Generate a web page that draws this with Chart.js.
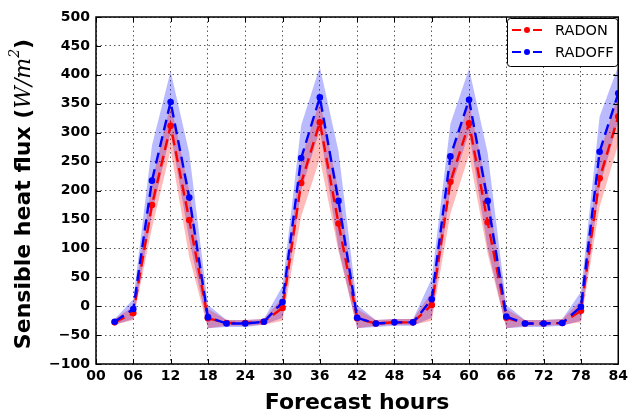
<!DOCTYPE html>
<html lang="en">
<head>
<meta charset="UTF-8">
<title>Sensible heat flux</title>
<style>
  html, body { margin: 0; padding: 0; background: #fff; }
  #wrap { width: 632px; height: 420px; position: relative; }
</style>
</head>
<body>
<div id="wrap"><canvas id="fluxChart"></canvas></div>
<script src="https://cdn.jsdelivr.net/npm/chart.js"></script>
<script>
// forecast hour of each point
const hours = [3, 6, 9, 12, 15, 18, 21, 24, 27, 30, 33, 36, 39, 42, 45, 48, 51, 54, 57, 60, 63, 66, 69, 72, 75, 78, 81, 84];

// RADON (red) mean and spread
const radon     = [-28, -12, 175, 312, 149, -21, -29, -29, -27, -3, 213, 318, 143, -21, -30, -28, -28, 2, 215, 316, 145, -20, -30, -30, -29, -8, 221, 328];
const radonHigh = [-22, 0, 215, 350, 200, -5, -24, -24, -22, 15, 255, 355, 200, -5, -24, -22, -22, 25, 255, 352, 200, -5, -24, -24, -22, 10, 265, 365];
const radonLow  = [-32, -24, 135, 270, 85, -38, -34, -34, -32, -25, 155, 255, 95, -38, -34, -32, -32, -25, 160, 262, 90, -38, -34, -34, -32, -28, 172, 280];

// RADOFF (blue) mean and spread
const radoff     = [-27, -5, 217, 353, 188, -19, -30, -30, -27, 7, 256, 361, 182, -20, -30, -28, -28, 12, 259, 357, 182, -18, -30, -30, -29, -1, 267, 368];
const radoffHigh = [-22, 12, 278, 406, 265, 2, -24, -24, -22, 35, 313, 414, 268, 2, -24, -22, -22, 48, 315, 411, 265, 2, -24, -24, -22, 25, 328, 415];
const radoffLow  = [-32, -22, 160, 300, 115, -38, -36, -36, -32, -20, 200, 305, 100, -38, -36, -34, -34, -20, 200, 300, 100, -38, -36, -36, -34, -25, 205, 320];

const seriesNames = ['RADON', 'RADOFF'];
const xTicks = [0, 6, 12, 18, 24, 30, 36, 42, 48, 54, 60, 66, 72, 78, 84];

function pts(vals) {
    return hours.map((h, i) => ({ x: h, y: vals[i] }));
}

const bandOpts = { borderWidth: 0, pointRadius: 0, tension: 0 };

// frame, inward ticks, titles and legend box
const decor = {
    id: 'decor',
    afterDatasetsDraw(chart) {
        const ctx = chart.ctx;
        const a = chart.chartArea;
        const xs = chart.scales.x, ys = chart.scales.y;
        ctx.save();
        ctx.strokeStyle = '#000';
        ctx.lineWidth = 1;
        // inward ticks
        ctx.beginPath();
        xTicks.forEach(t => {
            const px = Math.round(xs.getPixelForValue(t)) + 0.5;
            ctx.moveTo(px, a.bottom); ctx.lineTo(px, a.bottom - 5);
            ctx.moveTo(px, a.top); ctx.lineTo(px, a.top + 5);
        });
        for (let v = -100; v <= 500; v += 50) {
            const py = Math.round(ys.getPixelForValue(v)) + 0.5;
            ctx.moveTo(a.left, py); ctx.lineTo(a.left + 5, py);
            ctx.moveTo(a.right, py); ctx.lineTo(a.right - 5, py);
        }
        ctx.stroke();
        // frame
        ctx.lineWidth = 1.5;
        ctx.strokeRect(a.left, a.top, a.right - a.left, a.bottom - a.top);

        // x title
        ctx.fillStyle = '#000';
        ctx.font = 'bold 22px "DejaVu Sans"';
        ctx.textAlign = 'center';
        ctx.textBaseline = 'middle';
        ctx.fillText('Forecast hours', (a.left + a.right) / 2, 403);

        // y title, mixed fonts
        const parts = [
            { t: 'Sensible heat flux (', f: 'bold 22px "DejaVu Sans"', dy: 0 },
            { t: 'W/m', f: 'italic 22px "DejaVu Serif"', dy: 0 },
            { t: '2', f: 'italic 14px "DejaVu Serif"', dy: -9 },
            { t: ')', f: 'bold 22px "DejaVu Sans"', dy: 0 }
        ];
        let total = 0;
        parts.forEach(p => { ctx.font = p.f; p.w = ctx.measureText(p.t).width; total += p.w; });
        ctx.translate(24, 194);
        ctx.rotate(-Math.PI / 2);
        ctx.textAlign = 'left';
        let cx = -total / 2;
        parts.forEach(p => { ctx.font = p.f; ctx.fillText(p.t, cx, p.dy); cx += p.w; });
        ctx.setTransform(1, 0, 0, 1, 0, 0);

        // legend box
        const lx = 507, ly = a.top + 1, lw = a.right - 1 - 507, lh = 48;
        ctx.fillStyle = '#fff';
        ctx.strokeStyle = '#000';
        ctx.lineWidth = 1;
        ctx.beginPath();
        ctx.roundRect(lx + 0.5, ly + 0.5, lw, lh, 3);
        ctx.fill();
        ctx.stroke();
        const cols = ['#ff0000', '#0000ff'];
        seriesNames.forEach((name, i) => {
            const yy = ly + 12 + i * 22;
            ctx.strokeStyle = cols[i];
            ctx.lineWidth = 2.2;
            ctx.setLineDash([9, 12]);
            ctx.beginPath();
            ctx.moveTo(512, yy); ctx.lineTo(542, yy);
            ctx.stroke();
            ctx.setLineDash([]);
            ctx.fillStyle = cols[i];
            ctx.beginPath();
            ctx.arc(527, yy, 3, 0, Math.PI * 2);
            ctx.fill();
            ctx.fillStyle = '#000';
            ctx.font = '14.5px "DejaVu Sans"';
            ctx.textAlign = 'left';
            ctx.textBaseline = 'middle';
            ctx.fillText(name, 555, yy + 1);
        });
        ctx.restore();
    }
};

new Chart(document.getElementById('fluxChart'), {
    type: 'line',
    data: {
        datasets: [
            { label: 'radoffHigh', data: pts(radoffHigh), fill: '+1', backgroundColor: 'rgba(0,0,255,0.27)', order: 10, ...bandOpts },
            { label: 'radoffLow', data: pts(radoffLow), fill: false, order: 11, ...bandOpts },
            { label: 'radonHigh', data: pts(radonHigh), fill: '+1', backgroundColor: 'rgba(255,0,0,0.27)', order: 8, ...bandOpts },
            { label: 'radonLow', data: pts(radonLow), fill: false, order: 9, ...bandOpts },
            {
                label: seriesNames[0], data: pts(radon), borderColor: '#ff0000', backgroundColor: '#ff0000',
                borderWidth: 2.4, borderDash: [11, 6], pointRadius: 3.3, pointBorderWidth: 0, fill: false, order: 2, tension: 0
            },
            {
                label: seriesNames[1], data: pts(radoff), borderColor: '#0000ff', backgroundColor: '#0000ff',
                borderWidth: 2.4, borderDash: [11, 6], pointRadius: 3.3, pointBorderWidth: 0, fill: false, order: 1, tension: 0
            }
        ]
    },
    options: {
        responsive: true,
        maintainAspectRatio: false,
        animation: false,
        layout: { padding: { top: 17, right: 11, left: 0, bottom: 0 } },
        plugins: { legend: { display: false }, tooltip: { enabled: false } },
        scales: {
            x: {
                type: 'linear', min: 0, max: 84,
                afterFit(s) { s.height = 56; },
                afterBuildTicks(s) { s.ticks = xTicks.map(v => ({ value: v })); },
                ticks: {
                    color: '#000', padding: 4, maxRotation: 0, autoSkip: false,
                    font: { family: 'DejaVu Sans', weight: 'bold', size: 14 },
                    callback: v => String(v).padStart(2, '0')
                },
                grid: { color: 'rgba(0,0,0,0.65)', drawTicks: false },
                border: { display: false, dash: [1.5, 3] }
            },
            y: {
                min: -100, max: 500,
                afterFit(s) { s.width = 96; },
                ticks: {
                    stepSize: 50, color: '#000', padding: 6,
                    font: { family: 'DejaVu Sans', weight: 'bold', size: 14 },
                    callback: v => v < 0 ? '\u2212' + Math.abs(v) : String(v)
                },
                grid: { color: 'rgba(0,0,0,0.65)', drawTicks: false },
                border: { display: false, dash: [1.5, 3] }
            }
        }
    },
    plugins: [decor]
});
</script>
</body>
</html>
